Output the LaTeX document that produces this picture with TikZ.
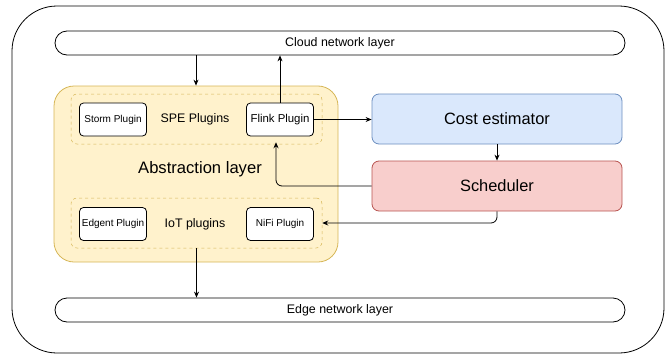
\documentclass[tikz,border=0pt]{standalone}
\usepackage{fontspec}
\setmainfont{Liberation Sans}
\usetikzlibrary{arrows.meta}
\usetikzlibrary{positioning}

\definecolor{yfill}{HTML}{FFF2CC}
\definecolor{ydraw}{HTML}{D6B656}
\definecolor{bfill}{HTML}{DAE8FC}
\definecolor{bdraw}{HTML}{6C8EBF}
\definecolor{rfill}{HTML}{F8CECC}
\definecolor{rdraw}{HTML}{B85450}

\begin{document}
\begin{tikzpicture}[x=1pt, y=-1pt, line width=0.8pt, >={Stealth[length=6pt,width=5pt]},
        layer/.style={draw, rounded corners=12pt, minimum width=570pt, minimum height=24pt, font=\fontsize{12.4}{14}\selectfont},
        group/.style={draw=ydraw, dashed, line width=0.5pt, rounded corners=6pt, minimum width=251pt, minimum height=50pt},
        grouplbl/.style={font=\fontsize{12.4}{14}\selectfont},
        plugin/.style={draw, fill=white, rounded corners=4pt, minimum width=67pt, minimum height=33pt, inner sep=1pt, font=\fontsize{10}{11}\selectfont},
        module/.style={rounded corners=7pt, minimum width=250pt, minimum height=50pt, font=\fontsize{16.4}{18}\selectfont}]
        \useasboundingbox (0,0) rectangle (669,356);

        \node[draw, rounded corners=45pt, minimum width=652pt, minimum height=347pt] (outer) at (338,179.5) {};
        \node[layer] (cloud) at (340,43) {Cloud network layer};
        \node[layer] (edge) at (340,310) {Edge network layer};

        \node[draw=ydraw, fill=yfill, rounded corners=20pt, minimum width=284pt, minimum height=176pt] (abstr) at (196,174) {};
        \node[font=\fontsize{16.6}{18}\selectfont] (abstrlbl) at (200,169) {Abstraction layer};

        \node[group] (spe) at (196.5,119) {};
        \node[grouplbl] (spelbl) at (195,119) {SPE Plugins};
        \node[plugin] (storm) at (113,119.5) {Storm Plugin};
        \node[plugin, font=\fontsize{11.4}{13}\selectfont] (flink) at (280,119.5) {Flink Plugin};

        \node[group] (iot) at (196.5,223) {};
        \node[grouplbl] (iotlbl) at (195,224) {IoT plugins};
        \node[plugin] (edgent) at (113,224) {Edgent Plugin};
        \node[plugin] (nifi) at (280,224) {NiFi Plugin};

        \node[module, draw=bdraw, fill=bfill] (cost) at (497,119) {Cost estimator};
        \node[module, draw=rdraw, fill=rfill] (sched) at (497,186) {Scheduler};

        \draw[->] (cloud.south -| abstr.north) -- (abstr.north);
        \draw[->] (flink.north) -- (flink.north |- cloud.south);
        \draw[->] (flink.east) -- (cost.west |- flink.east);
        \draw[->] (cost.south) -- (sched.north);
        \draw[->, rounded corners=6pt] (sched.west) -| ([xshift=-4pt, yshift=2pt]spe.south -| flink.south);
        \draw[->, rounded corners=6pt] (sched.south) |- (iot.east);
        \draw[->] (iot.south) -- (edge.north -| iot.south);
\end{tikzpicture}
\end{document}
